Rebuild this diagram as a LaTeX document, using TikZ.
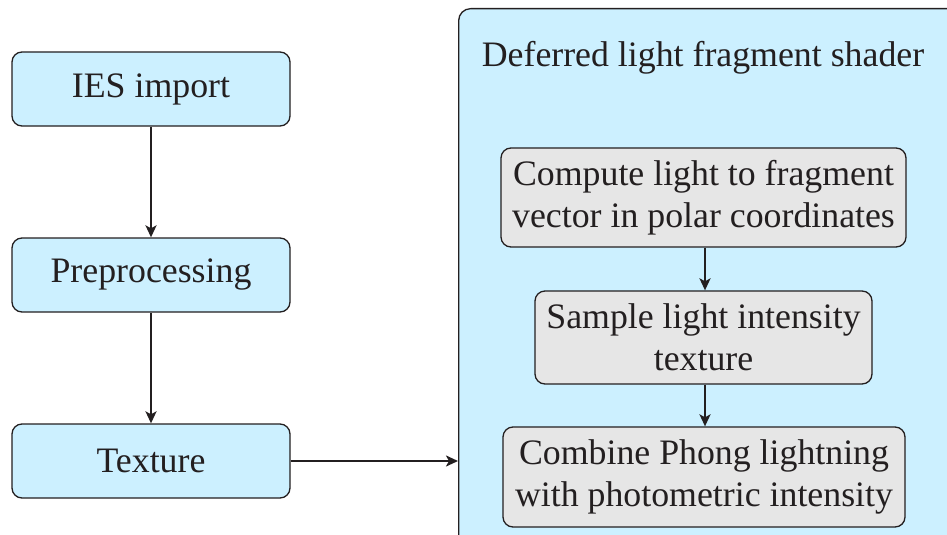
\documentclass[tikz,border=0pt]{standalone}
\usepackage{fontspec}
\setmainfont{Liberation Serif}
\usetikzlibrary{arrows.meta,positioning}
\definecolor{boxblue}{RGB}{204,240,255}
\definecolor{boxgray}{RGB}{230,230,230}
\definecolor{ink}{RGB}{35,31,32}
\tikzset{
  stagebox/.style={draw=ink, line width=1.3pt, rounded corners=10pt, fill=boxblue,
    minimum width=278pt, minimum height=74pt, inner sep=0pt, text=ink,
    font=\fontsize{35.8}{40}\selectfont},
  shaderstep/.style={draw=ink, line width=1.3pt, rounded corners=10pt, fill=boxgray,
    inner sep=0pt, text=ink, align=center, font=\fontsize{35.8}{42}\selectfont},
  flow/.style={draw=ink, line width=2.2pt, -{Stealth[length=12pt,width=11pt,inset=3pt]}},
}
\begin{document}
\begin{tikzpicture}[x=1pt,y=-1pt]
  \useasboundingbox (0,0) rectangle (947,535);
  \clip (0,0) rectangle (947,535);

  % left column: data preparation
  \node[stagebox] (ies)  at (151,89)  {IES import};
  \node[stagebox] (prep) at (151,275) {Preprocessing};
  \node[stagebox] (tex)  at (151,461) {Texture};

  % shader container, running past the right and bottom edges
  \node[draw=ink, line width=1.3pt, rounded corners=12pt, fill=boxblue,
        minimum width=560pt, minimum height=620pt, inner sep=0pt, anchor=north west]
        (shader) at (458,8) {};
  \node[text=ink, font=\fontsize{35.8}{40}\selectfont] (title) at (703,58)
        {Deferred light fragment shader};

  % shader steps
  \node[shaderstep, minimum width=405pt, minimum height=99pt] (polar) at (703.5,197.5)
        {Compute light to fragment\\vector in polar coordinates};
  \node[shaderstep, minimum width=337pt, minimum height=93pt] (sample) at (703.5,337.5)
        {Sample light intensity\\texture};
  \node[shaderstep, minimum width=402pt, minimum height=100pt] (combine) at (704,477)
        {Combine Phong lightning\\with photometric intensity};

  % connectors
  \draw[flow] (ies) -- (prep);
  \draw[flow] (prep) -- (tex);
  \draw[flow] (tex.east) -- (tex.east -| shader.west);
  \draw[flow] (polar.south -| 705,0) -- (sample.north -| 705,0);
  \draw[flow] (sample.south -| 705,0) -- (combine.north -| 705,0);
\end{tikzpicture}
\end{document}
